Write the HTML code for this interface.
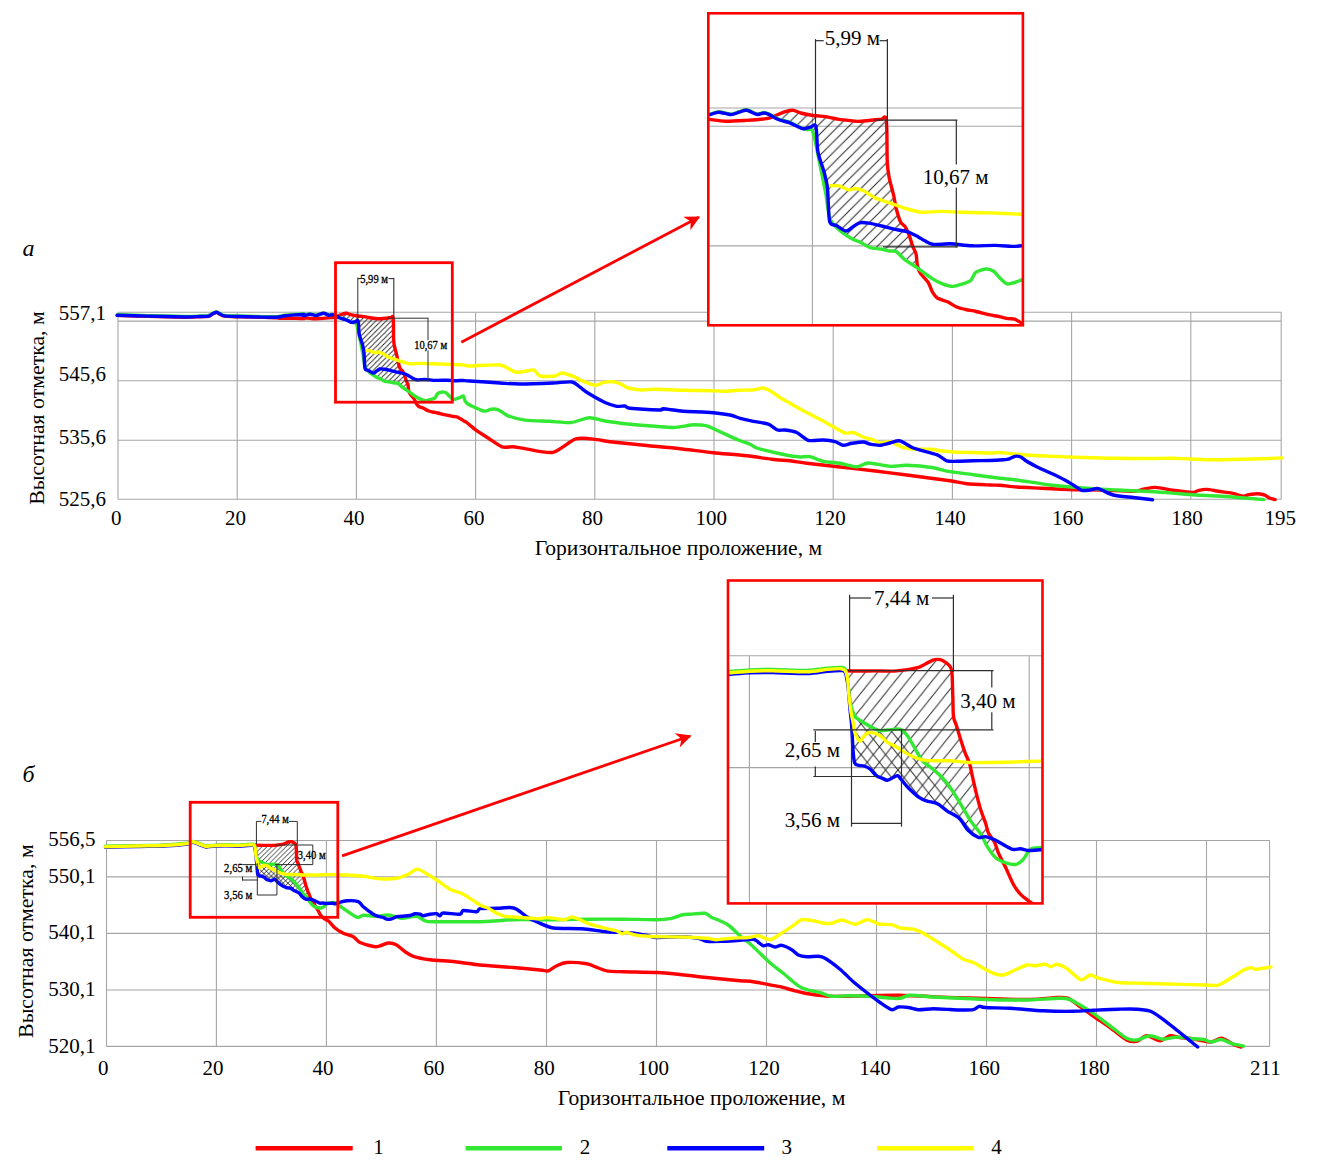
<!DOCTYPE html>
<html><head><meta charset="utf-8"><title>Profiles</title>
<style>
html,body{margin:0;padding:0;background:#fff;}
svg{display:block;}
text{font-family:"Liberation Serif","Times New Roman",serif;fill:#000;}
</style></head><body>
<svg width="1319" height="1169" viewBox="0 0 1319 1169">
<defs>
<pattern id="hA" patternUnits="userSpaceOnUse" width="5.2" height="5.2"><path d="M0,5.2 L5.2,0 M-1,1 L1,-1 M4.2,6.2 L6.2,4.2" stroke="#222" stroke-width="0.9"/></pattern>
<pattern id="hIA" patternUnits="userSpaceOnUse" width="10.6" height="10.6"><path d="M0,10.6 L10.6,0 M-1,1 L1,-1 M9.6,11.6 L11.6,9.6" stroke="#222" stroke-width="1"/></pattern>
<pattern id="hB1" patternUnits="userSpaceOnUse" width="4.8" height="4.8"><path d="M0,4.8 L4.8,0 M-1,1 L1,-1 M3.8,5.8 L5.8,3.8" stroke="#222" stroke-width="0.9"/></pattern>
<pattern id="hB2" patternUnits="userSpaceOnUse" width="4.8" height="4.8"><path d="M0,0 L4.8,4.8 M-1,3.8 L1,5.8 M3.8,-1 L5.8,1" stroke="#222" stroke-width="0.9"/></pattern>
<pattern id="hIB1" patternUnits="userSpaceOnUse" width="12.3" height="15.4"><path d="M0,15.4 L12.3,0 M-1.23,1.54 L1.23,-1.54 M11.07,16.94 L13.53,13.86" stroke="#222" stroke-width="1"/></pattern>
<pattern id="hIB2" patternUnits="userSpaceOnUse" width="12.3" height="15.4"><path d="M0,0 L12.3,15.4 M-1.23,13.86 L1.23,16.94 M11.07,-1.54 L13.53,1.54" stroke="#222" stroke-width="1"/></pattern>
<clipPath id="cIA"><rect x="708" y="13" width="315" height="312"/></clipPath>
<clipPath id="cIB"><rect x="728" y="580" width="315" height="323"/></clipPath>
<marker id="arr" viewBox="0 0 10 10" refX="9" refY="5" markerWidth="6.6" markerHeight="5.4" orient="auto" markerUnits="strokeWidth"><path d="M0,0 L10,5 L0,10 L3,5 z" fill="#ff0000"/></marker>
</defs>
<line x1="118.0" y1="312.2" x2="1281.2" y2="312.2" stroke="#a6a6a6" stroke-width="1.1"/>
<line x1="118.0" y1="321.1" x2="1281.2" y2="321.1" stroke="#a6a6a6" stroke-width="1.1"/>
<line x1="118.0" y1="380.7" x2="1281.2" y2="380.7" stroke="#a6a6a6" stroke-width="1.1"/>
<line x1="118.0" y1="440.2" x2="1281.2" y2="440.2" stroke="#a6a6a6" stroke-width="1.1"/>
<line x1="118.0" y1="499.3" x2="1281.2" y2="499.3" stroke="#a6a6a6" stroke-width="1.1"/>
<line x1="118.0" y1="312.2" x2="118.0" y2="499.3" stroke="#a6a6a6" stroke-width="1.1"/>
<line x1="237.2" y1="312.2" x2="237.2" y2="499.3" stroke="#a6a6a6" stroke-width="1.1"/>
<line x1="356.4" y1="312.2" x2="356.4" y2="499.3" stroke="#a6a6a6" stroke-width="1.1"/>
<line x1="475.6" y1="312.2" x2="475.6" y2="499.3" stroke="#a6a6a6" stroke-width="1.1"/>
<line x1="594.8" y1="312.2" x2="594.8" y2="499.3" stroke="#a6a6a6" stroke-width="1.1"/>
<line x1="714.0" y1="312.2" x2="714.0" y2="499.3" stroke="#a6a6a6" stroke-width="1.1"/>
<line x1="833.2" y1="312.2" x2="833.2" y2="499.3" stroke="#a6a6a6" stroke-width="1.1"/>
<line x1="952.4" y1="312.2" x2="952.4" y2="499.3" stroke="#a6a6a6" stroke-width="1.1"/>
<line x1="1071.6" y1="312.2" x2="1071.6" y2="499.3" stroke="#a6a6a6" stroke-width="1.1"/>
<line x1="1190.8" y1="312.2" x2="1190.8" y2="499.3" stroke="#a6a6a6" stroke-width="1.1"/>
<line x1="1281.2" y1="312.2" x2="1281.2" y2="499.3" stroke="#a6a6a6" stroke-width="1.1"/>
<text x="106.0" y="320.3" font-size="21" text-anchor="end">557,1</text>
<text x="106.0" y="381.0" font-size="21" text-anchor="end">545,6</text>
<text x="106.0" y="444.0" font-size="21" text-anchor="end">535,6</text>
<text x="106.0" y="506.1" font-size="21" text-anchor="end">525,6</text>
<text x="116.3" y="525.3" font-size="21" text-anchor="middle">0</text>
<text x="235.6" y="525.3" font-size="21" text-anchor="middle">20</text>
<text x="354.1" y="525.3" font-size="21" text-anchor="middle">40</text>
<text x="474.1" y="525.3" font-size="21" text-anchor="middle">60</text>
<text x="592.5" y="525.3" font-size="21" text-anchor="middle">80</text>
<text x="711.3" y="525.3" font-size="21" text-anchor="middle">100</text>
<text x="829.9" y="525.3" font-size="21" text-anchor="middle">120</text>
<text x="950.0" y="525.3" font-size="21" text-anchor="middle">140</text>
<text x="1067.7" y="525.3" font-size="21" text-anchor="middle">160</text>
<text x="1187.1" y="525.3" font-size="21" text-anchor="middle">180</text>
<text x="1280.3" y="525.3" font-size="21" text-anchor="middle">195</text>
<text x="678.4" y="554.7" font-size="21.6" text-anchor="middle">Горизонтальное проложение, м</text>
<text x="0.0" y="0.0" font-size="21.8" text-anchor="middle" transform="translate(44.2,408) rotate(-90)">Высотная отметка, м</text>
<text x="22.5" y="256.0" font-size="24" text-anchor="start" font-style="italic">а</text>
<polygon points="337.4,316.1 338.5,315.8 342.5,314.1 346.6,313.3 350.7,314.6 356.2,315.8 364.3,316.6 369.7,317.8 377.9,318.7 380.1,318.7 387.3,318.0 390.9,317.6 392.4,316.5 393.1,317.6 393.5,324.8 393.6,339.3 394.5,346.5 396.7,355.1 398.2,362.3 400.3,368.8 402.5,371.0 404.4,375.0 406.3,380.7 408.0,384.6 408.6,390.3 408.6,390.4 408.6,391.4 402.5,387.4 398.0,383.3 394.2,383.0 390.3,382.0 385.2,381.4 380.1,378.6 376.5,377.2 371.1,373.7 366.3,369.0 364.7,365.2 363.2,355.3 361.7,347.8 359.7,337.9 357.7,328.0 356.3,323.0 353.8,322.9 352.0,322.4 349.3,321.2 345.3,319.2 339.8,317.7 337.4,316.4" fill="url(#hA)" stroke="none"/>
<g fill="none" stroke-width="3.4" stroke-linejoin="round" stroke-linecap="round">
<path stroke="#ff0000" d="M117.2,315.4 C121.3,315.5 138.9,316.1 148.0,316.3 C157.1,316.5 178.9,317.1 185.8,317.2 C192.7,317.3 197.0,316.8 200.0,316.7 C203.0,316.6 206.8,316.7 208.5,316.3 C210.2,315.9 211.6,314.5 212.7,314.0 C213.8,313.5 215.6,312.4 216.5,312.4 C217.4,312.4 218.5,313.5 219.6,314.0 C220.7,314.5 222.1,315.7 224.4,316.1 C226.7,316.5 232.7,316.6 237.2,316.7 C241.7,316.8 253.2,317.0 258.4,317.2 C263.6,317.4 273.4,317.7 276.4,317.9 C279.4,318.1 278.1,318.3 280.6,318.4 C283.1,318.5 292.4,318.3 295.5,318.3 C298.6,318.3 303.0,318.7 304.0,318.6 C305.0,318.5 302.9,317.8 303.1,317.7 C303.3,317.6 304.1,317.7 305.5,317.8 C306.8,317.9 310.9,318.6 313.3,318.7 C315.7,318.7 320.7,318.4 323.5,318.3 C326.2,318.1 331.7,317.8 333.7,317.4 C335.7,317.1 337.3,316.2 338.5,315.8 C339.6,315.3 341.5,314.4 342.5,314.1 C343.6,313.7 345.5,313.2 346.6,313.3 C347.7,313.4 349.4,314.3 350.7,314.6 C352.0,314.9 354.3,315.5 356.2,315.8 C358.0,316.0 362.5,316.4 364.3,316.6 C366.1,316.9 367.9,317.5 369.7,317.8 C371.5,318.1 376.5,318.6 377.9,318.7 C379.3,318.8 378.8,318.8 380.1,318.7 C381.3,318.6 385.8,318.1 387.3,318.0 C388.7,317.8 390.2,317.8 390.9,317.6 C391.6,317.4 392.1,316.5 392.4,316.5 C392.7,316.5 393.0,316.5 393.1,317.6 C393.2,318.7 393.4,321.9 393.5,324.8 C393.5,327.7 393.5,336.4 393.6,339.3 C393.8,342.1 394.1,344.4 394.5,346.5 C395.0,348.6 396.2,353.0 396.7,355.1 C397.2,357.2 397.7,360.5 398.2,362.3 C398.6,364.2 399.7,367.6 400.3,368.8 C400.9,369.9 401.9,370.1 402.5,371.0 C403.0,371.8 403.9,373.7 404.4,375.0 C404.9,376.3 405.8,379.5 406.3,380.7 C406.8,382.0 407.6,383.3 408.0,384.6 C408.3,385.8 408.3,389.0 408.6,390.3 C408.9,391.6 409.5,393.1 410.2,394.2 C410.9,395.3 413.2,397.4 414.0,398.6 C414.8,399.8 415.4,402.1 416.0,403.1 C416.5,404.1 417.5,405.6 418.5,406.3 C419.5,407.0 422.3,407.6 423.6,408.2 C424.9,408.8 426.9,410.3 428.1,410.8 C429.3,411.3 431.3,411.7 432.6,412.0 C433.9,412.3 436.2,412.7 437.7,413.0 C439.2,413.3 442.6,414.3 444.1,414.6 C445.6,414.9 447.9,415.3 449.2,415.5 C450.5,415.8 452.7,416.4 453.7,416.5 C454.7,416.7 456.0,416.5 456.9,416.8 C457.8,417.1 459.5,418.2 460.4,418.8 C461.3,419.3 462.7,420.2 463.5,420.7 C464.4,421.2 465.0,421.2 466.7,422.5 C468.4,423.8 473.5,428.3 476.4,430.4 C479.3,432.5 485.1,436.1 488.5,438.3 C491.9,440.5 498.7,445.7 501.9,446.8 C505.1,447.9 509.7,446.6 512.8,446.8 C515.9,447.0 519.7,447.9 525.0,448.6 C530.3,449.3 546.1,453.6 552.9,452.3 C559.7,451.0 570.1,440.6 575.9,438.9 C581.7,437.2 592.2,439.2 596.7,439.6 C601.2,440.0 603.3,440.9 610.0,441.7 C616.7,442.5 637.4,444.6 646.7,445.5 C656.0,446.4 671.1,447.7 680.0,448.7 C688.9,449.7 704.4,451.8 713.3,452.7 C722.2,453.6 738.9,454.9 746.7,455.8 C754.5,456.7 765.9,458.5 771.7,459.2 C777.5,459.9 785.3,460.3 790.0,460.8 C794.7,461.3 800.0,462.5 806.7,463.3 C813.4,464.1 831.1,466.0 840.0,467.0 C848.9,468.0 864.4,469.7 873.3,470.8 C882.2,471.9 896.5,473.7 906.7,475.0 C916.9,476.3 942.0,479.6 950.0,480.8 C958.0,482.0 961.4,483.1 966.7,483.7 C972.0,484.3 985.6,484.8 990.0,485.0 C994.4,485.2 996.4,485.0 1000.0,485.3 C1003.6,485.6 1011.1,486.6 1016.7,487.0 C1022.3,487.4 1033.9,487.9 1041.7,488.3 C1049.5,488.7 1067.2,489.5 1075.0,489.7 C1082.8,489.9 1092.2,489.8 1100.0,490.0 C1107.8,490.2 1127.5,491.4 1133.3,491.3 C1139.1,491.2 1140.3,489.7 1143.3,489.2 C1146.3,488.7 1151.8,487.3 1155.7,487.4 C1159.6,487.5 1168.5,489.7 1172.7,490.3 C1176.9,490.9 1184.8,491.7 1187.5,492.0 C1190.2,492.3 1191.7,492.7 1193.2,492.5 C1194.7,492.3 1197.1,490.7 1198.9,490.3 C1200.7,489.9 1204.3,489.3 1206.9,489.4 C1209.5,489.5 1214.9,490.7 1218.2,491.2 C1221.5,491.7 1228.6,492.4 1231.9,493.1 C1235.2,493.8 1241.0,496.0 1243.3,496.2 C1245.6,496.4 1246.9,494.9 1248.9,494.6 C1250.9,494.3 1255.9,493.6 1258.0,493.7 C1260.1,493.8 1263.4,494.5 1264.9,495.1 C1266.4,495.7 1268.0,497.4 1269.4,498.0 C1270.8,498.6 1274.3,499.4 1275.1,499.6"/>
<path stroke="#33e833" d="M117.2,314.7 C121.3,314.8 138.9,315.4 148.0,315.6 C157.1,315.8 178.9,316.4 185.8,316.5 C192.7,316.6 197.0,316.1 200.0,316.0 C203.0,315.9 206.8,316.0 208.5,315.6 C210.2,315.2 211.6,313.8 212.7,313.3 C213.8,312.8 215.6,311.9 216.5,311.9 C217.4,311.9 218.5,312.8 219.6,313.3 C220.7,313.8 222.1,315.0 224.4,315.4 C226.7,315.8 232.7,315.9 237.2,316.0 C241.7,316.1 253.2,316.4 258.4,316.5 C263.6,316.6 272.9,316.9 276.4,316.7 C279.9,316.5 282.4,315.5 284.9,315.2 C287.4,314.9 293.0,314.6 295.5,314.4 C298.0,314.2 303.0,313.9 304.0,314.0 C305.0,314.1 302.9,315.1 303.1,315.3 C303.3,315.4 304.6,315.3 305.5,315.2 C306.4,315.0 308.5,314.0 309.9,314.0 C311.3,314.0 314.7,315.2 316.0,315.2 C317.4,315.2 319.1,314.3 320.1,314.0 C321.1,313.7 322.6,312.9 323.8,313.0 C325.0,313.2 327.8,314.9 328.9,315.1 C330.1,315.2 331.5,314.4 332.4,314.4 C333.2,314.4 334.0,314.7 335.0,315.2 C336.0,315.6 338.4,317.2 339.8,317.7 C341.2,318.3 344.0,318.8 345.3,319.2 C346.5,319.7 348.4,320.7 349.3,321.2 C350.2,321.6 351.4,322.2 352.0,322.4 C352.6,322.6 353.2,322.8 353.8,322.9 C354.3,323.0 355.7,322.4 356.3,323.0 C356.8,323.7 357.3,326.0 357.7,328.0 C358.2,330.0 359.2,335.3 359.7,337.9 C360.3,340.6 361.3,345.5 361.7,347.8 C362.2,350.1 362.8,352.9 363.2,355.3 C363.6,357.6 364.3,363.3 364.7,365.2 C365.1,367.0 365.5,367.9 366.3,369.0 C367.2,370.2 369.7,372.7 371.1,373.7 C372.5,374.8 375.3,376.5 376.5,377.2 C377.7,377.8 378.9,378.0 380.1,378.6 C381.2,379.1 383.8,380.9 385.2,381.4 C386.6,381.8 389.1,381.8 390.3,382.0 C391.5,382.2 393.2,382.8 394.2,383.0 C395.2,383.1 396.9,382.7 398.0,383.3 C399.1,383.9 401.0,386.3 402.5,387.4 C403.9,388.5 407.1,390.4 408.9,391.6 C410.7,392.8 414.3,395.7 416.0,396.7 C417.6,397.7 419.7,398.8 421.1,399.3 C422.4,399.8 424.8,400.6 426.2,400.6 C427.5,400.6 430.1,399.7 431.3,399.3 C432.5,398.9 434.3,398.5 435.1,397.7 C436.0,396.9 436.7,394.3 437.7,393.5 C438.7,392.8 441.6,392.0 442.8,391.9 C444.0,391.9 445.8,392.6 446.6,393.2 C447.5,393.7 448.4,395.2 449.2,396.1 C450.1,396.9 452.0,398.9 453.1,399.3 C454.1,399.6 455.9,398.9 456.9,398.6 C457.9,398.4 459.5,397.7 460.4,397.3 C461.3,397.0 462.7,395.4 463.5,396.2 C464.4,396.9 464.0,401.1 466.7,403.1 C469.4,405.1 480.5,410.2 483.7,411.0 C486.9,411.8 489.1,409.4 491.0,409.2 C492.9,409.0 496.0,408.9 498.3,409.8 C500.6,410.7 504.4,414.4 508.0,415.8 C511.6,417.2 519.5,419.4 525.0,420.1 C530.5,420.8 543.1,421.0 549.2,421.3 C555.3,421.6 565.8,423.0 571.1,422.5 C576.4,422.0 584.8,417.9 589.3,417.7 C593.8,417.5 599.6,420.1 605.0,421.0 C610.4,421.9 623.3,423.5 630.0,424.2 C636.7,424.9 649.2,425.9 655.0,426.3 C660.8,426.7 669.1,427.6 673.3,427.5 C677.5,427.4 684.0,426.2 686.7,425.8 C689.4,425.4 690.6,424.7 693.3,424.7 C696.0,424.7 702.9,424.8 706.7,425.8 C710.5,426.8 717.5,430.6 721.7,432.5 C725.9,434.4 734.5,438.4 738.3,440.0 C742.1,441.6 747.5,443.1 750.0,444.2 C752.5,445.3 753.1,446.8 756.7,448.0 C760.3,449.2 772.3,452.0 776.7,453.0 C781.1,454.0 786.9,455.3 790.0,455.8 C793.1,456.3 797.3,456.9 800.0,457.0 C802.7,457.1 806.9,456.1 810.0,456.7 C813.1,457.3 819.3,460.4 823.3,461.3 C827.3,462.2 835.5,462.6 840.0,463.3 C844.5,464.0 852.9,466.7 856.7,466.7 C860.5,466.7 863.9,463.1 868.3,463.0 C872.7,462.9 884.9,466.0 890.0,466.3 C895.1,466.6 901.1,465.1 906.7,465.3 C912.3,465.5 925.9,466.6 931.7,467.5 C937.5,468.4 944.5,470.7 950.0,471.7 C955.5,472.7 966.6,473.8 973.3,474.7 C980.0,475.6 994.2,477.6 1000.0,478.3 C1005.8,479.0 1010.0,479.1 1016.7,480.0 C1023.4,480.9 1041.1,483.9 1050.0,485.0 C1058.9,486.1 1074.4,487.3 1083.3,488.0 C1092.2,488.7 1107.8,489.5 1116.7,490.0 C1125.6,490.5 1142.5,491.1 1150.0,491.5 C1157.5,491.9 1166.6,492.6 1172.7,493.1 C1178.8,493.6 1189.4,494.6 1195.5,495.0 C1201.6,495.4 1212.1,495.6 1218.2,496.0 C1224.3,496.4 1234.9,497.2 1241.0,497.7 C1247.1,498.2 1260.7,499.3 1263.7,499.6"/>
<path stroke="#ffff00" d="M364.6,350.7 C365.3,350.7 368.4,350.4 369.7,350.7 C371.0,351.0 373.4,352.6 374.5,352.7 C375.6,352.9 376.8,351.9 377.9,352.0 C379.0,352.1 381.3,352.9 382.6,353.5 C383.8,354.1 385.7,355.8 387.3,356.5 C388.9,357.3 392.6,358.4 394.5,359.1 C396.5,359.8 399.6,361.0 401.7,361.6 C403.9,362.2 408.0,363.5 410.4,363.8 C412.8,364.0 417.1,363.4 419.8,363.4 C422.5,363.4 427.3,363.7 430.7,363.8 C434.0,363.9 441.2,364.0 445.1,364.1 C449.1,364.3 457.8,364.7 460.3,364.8 C462.7,364.9 462.2,364.8 463.5,364.9 C464.8,365.1 465.1,366.0 470.0,366.0 C474.9,366.0 494.0,364.2 500.0,365.0 C506.0,365.8 511.4,371.2 515.0,372.0 C518.6,372.8 524.5,371.3 527.0,371.0 C529.5,370.7 532.3,369.3 534.0,370.0 C535.7,370.7 537.2,375.2 540.0,376.0 C542.8,376.8 552.1,376.4 555.0,376.0 C557.9,375.6 559.3,372.9 562.0,373.0 C564.7,373.1 572.6,376.1 575.0,377.0 C577.4,377.9 577.3,378.9 580.0,380.0 C582.7,381.1 591.9,385.0 595.0,385.3 C598.1,385.6 600.9,383.0 603.3,382.5 C605.7,382.0 611.1,381.5 613.3,381.7 C615.5,381.9 618.0,382.9 620.0,383.7 C622.0,384.5 625.4,387.2 628.3,388.0 C631.2,388.8 638.1,389.8 641.7,390.0 C645.3,390.2 649.5,389.2 655.0,389.2 C660.5,389.2 675.5,390.1 683.3,390.3 C691.1,390.5 707.5,390.7 713.3,390.8 C719.1,390.9 723.4,391.4 726.7,391.3 C730.0,391.2 734.5,390.5 738.3,390.3 C742.1,390.1 751.8,390.0 755.0,389.7 C758.2,389.4 760.5,387.9 762.5,388.0 C764.5,388.1 767.7,389.5 770.0,390.8 C772.3,392.1 777.3,395.8 780.0,397.5 C782.7,399.2 786.4,401.3 790.0,403.3 C793.6,405.3 802.7,410.4 806.7,412.5 C810.7,414.6 816.5,417.3 820.0,419.2 C823.5,421.1 830.0,424.9 833.3,426.7 C836.6,428.5 842.3,432.2 845.0,433.0 C847.7,433.8 850.9,432.0 853.3,432.5 C855.7,433.0 860.6,436.0 863.3,437.0 C866.0,438.0 871.1,439.2 873.3,440.0 C875.5,440.8 877.8,442.8 880.0,443.0 C882.2,443.2 886.9,441.1 890.0,441.7 C893.1,442.3 899.7,446.5 903.3,447.5 C906.9,448.5 912.9,449.0 916.7,449.2 C920.5,449.4 928.6,449.0 931.7,449.2 C934.8,449.4 936.7,450.4 940.0,450.8 C943.3,451.2 952.3,452.0 956.7,452.2 C961.1,452.4 968.9,452.4 973.3,452.5 C977.7,452.6 986.4,453.0 990.0,453.0 C993.6,453.0 996.4,452.3 1000.0,452.5 C1003.6,452.7 1010.0,453.7 1016.7,454.2 C1023.4,454.7 1041.1,455.8 1050.0,456.2 C1058.9,456.6 1074.4,457.2 1083.3,457.5 C1092.2,457.8 1107.8,458.2 1116.7,458.3 C1125.6,458.4 1142.5,458.5 1150.0,458.5 C1157.5,458.5 1167.3,458.1 1172.7,458.2 C1178.1,458.3 1185.1,458.8 1190.4,459.0 C1195.7,459.2 1205.8,459.8 1212.5,459.8 C1219.2,459.8 1234.2,459.4 1241.0,459.3 C1247.8,459.2 1258.2,458.9 1263.7,458.7 C1269.2,458.5 1279.5,458.0 1281.9,457.9"/>
<path stroke="#0000ff" d="M117.2,315.2 C121.3,315.3 138.9,315.9 148.0,316.1 C157.1,316.3 178.9,316.9 185.8,317.0 C192.7,317.1 197.0,316.6 200.0,316.5 C203.0,316.4 206.8,316.5 208.5,316.1 C210.2,315.7 211.6,314.3 212.7,313.8 C213.8,313.3 215.6,312.2 216.5,312.2 C217.4,312.2 218.5,313.3 219.6,313.8 C220.7,314.3 222.1,315.5 224.4,315.9 C226.7,316.3 232.7,316.4 237.2,316.5 C241.7,316.6 253.2,316.9 258.4,317.0 C263.6,317.1 272.9,317.4 276.4,317.2 C279.9,317.0 282.4,316.0 284.9,315.7 C287.4,315.4 293.0,315.1 295.5,314.9 C298.0,314.7 303.0,314.4 304.0,314.5 C305.0,314.6 302.9,315.4 303.1,315.5 C303.3,315.6 304.6,315.6 305.5,315.4 C306.4,315.2 308.5,314.2 309.9,314.2 C311.3,314.2 314.7,315.4 316.0,315.4 C317.4,315.4 319.1,314.5 320.1,314.2 C321.1,313.9 322.6,313.1 323.8,313.3 C325.0,313.4 327.8,315.1 328.9,315.3 C330.1,315.5 331.5,314.6 332.4,314.6 C333.2,314.6 334.0,315.0 335.0,315.4 C336.0,315.9 338.4,317.4 339.8,318.0 C341.2,318.5 344.0,319.0 345.3,319.5 C346.5,319.9 348.4,321.0 349.3,321.4 C350.2,321.8 351.2,322.4 352.0,322.4 C352.9,322.4 354.6,321.8 355.5,321.7 C356.3,321.5 357.7,319.6 358.2,321.2 C358.7,322.8 358.6,330.7 359.2,333.7 C359.7,336.8 361.6,341.5 362.3,343.9 C362.9,346.3 363.6,348.8 363.9,352.0 C364.3,355.3 364.4,365.9 365.0,368.3 C365.6,370.8 367.3,369.7 368.4,370.4 C369.5,371.0 372.1,373.0 373.1,373.1 C374.2,373.2 375.6,371.6 376.5,371.1 C377.4,370.5 378.9,369.3 379.9,369.0 C381.0,368.8 382.9,369.0 384.4,369.2 C385.9,369.4 389.1,370.2 390.9,370.6 C392.8,371.1 396.4,372.0 398.2,372.4 C399.9,372.8 402.5,373.0 403.9,373.5 C405.4,374.0 407.9,375.4 409.0,376.0 C410.1,376.6 411.1,377.4 412.1,377.9 C413.1,378.4 414.9,379.6 416.6,379.8 C418.3,380.0 422.3,379.4 424.9,379.4 C427.4,379.5 432.8,380.3 435.8,380.4 C438.8,380.5 444.6,380.2 447.3,380.2 C449.9,380.3 453.9,380.7 455.6,380.7 C457.4,380.8 459.3,380.5 460.4,380.4 C461.5,380.4 462.3,380.5 463.5,380.5 C464.8,380.6 465.1,380.7 470.0,381.0 C474.9,381.3 493.3,382.6 500.0,383.0 C506.7,383.4 512.9,384.0 520.0,384.0 C527.1,384.0 546.1,383.3 553.0,383.0 C559.9,382.7 568.4,381.4 572.0,382.0 C575.6,382.6 577.8,385.7 580.0,387.2 C582.2,388.7 585.0,391.3 588.3,393.3 C591.6,395.3 601.2,400.8 605.0,402.5 C608.8,404.2 614.0,405.8 616.7,406.3 C619.4,406.8 623.2,405.7 625.0,406.0 C626.8,406.3 625.3,407.8 630.0,408.3 C634.7,408.8 655.6,409.9 660.0,410.0 C664.4,410.1 660.2,408.5 663.3,408.7 C666.4,408.9 677.5,410.8 683.3,411.3 C689.1,411.8 700.5,411.7 706.7,412.2 C712.9,412.7 725.6,414.2 730.0,415.0 C734.4,415.8 736.9,417.5 740.0,418.3 C743.1,419.1 749.5,420.5 753.3,421.3 C757.1,422.1 765.1,423.0 768.3,424.2 C771.5,425.4 775.3,429.2 777.5,430.0 C779.7,430.8 782.4,429.7 785.0,430.0 C787.6,430.3 793.6,431.1 796.7,432.5 C799.8,433.9 804.8,439.3 808.3,440.3 C811.8,441.3 819.7,439.8 823.3,440.0 C826.9,440.2 832.3,441.0 835.0,441.7 C837.7,442.4 841.1,445.1 843.3,445.3 C845.5,445.5 849.0,443.7 851.7,443.3 C854.4,442.9 860.9,441.9 863.3,442.0 C865.7,442.1 867.8,443.8 870.0,444.2 C872.2,444.6 877.3,445.5 880.0,445.3 C882.7,445.1 887.3,443.6 890.0,443.0 C892.7,442.4 896.9,440.1 900.0,440.8 C903.1,441.5 908.4,446.1 913.3,448.0 C918.2,449.9 932.2,453.0 936.7,454.7 C941.2,456.4 944.0,459.9 946.7,460.8 C949.4,461.7 953.2,461.3 956.7,461.3 C960.2,461.3 968.9,460.9 973.3,460.8 C977.7,460.7 986.0,460.6 990.0,460.5 C994.0,460.4 1000.9,459.9 1003.3,459.7 C1005.7,459.5 1006.7,459.7 1008.3,459.2 C1009.9,458.7 1013.3,456.6 1015.0,456.3 C1016.7,456.0 1019.2,456.3 1020.8,457.0 C1022.4,457.7 1024.6,460.0 1026.7,461.3 C1028.8,462.6 1032.3,464.5 1036.7,466.7 C1041.1,468.9 1055.1,475.1 1060.0,477.5 C1064.9,479.9 1070.4,483.3 1073.3,485.0 C1076.2,486.7 1079.5,489.6 1081.7,490.3 C1083.9,491.0 1087.8,490.2 1090.0,490.0 C1092.2,489.8 1095.2,488.0 1098.3,488.7 C1101.4,489.4 1108.6,493.8 1113.3,495.0 C1118.0,496.2 1128.1,496.9 1133.3,497.5 C1138.5,498.1 1149.9,499.4 1152.5,499.7"/>
</g>
<line x1="357.8" y1="277.5" x2="357.8" y2="319.0" stroke="#2e2e2e" stroke-width="1"/>
<line x1="393.8" y1="277.8" x2="393.8" y2="317.0" stroke="#2e2e2e" stroke-width="1.1"/>
<line x1="357.8" y1="278.6" x2="361.0" y2="278.6" stroke="#2e2e2e" stroke-width="1.1"/>
<line x1="388.5" y1="278.6" x2="393.8" y2="278.6" stroke="#2e2e2e" stroke-width="1.1"/>
<text x="360.2" y="282.8" font-size="11.5" textLength="27.8" lengthAdjust="spacingAndGlyphs" stroke="#000" stroke-width="0.3">5,99 м</text>
<line x1="387.5" y1="318.2" x2="428.5" y2="318.2" stroke="#2e2e2e" stroke-width="1"/>
<line x1="428.0" y1="318.2" x2="428.0" y2="340.1" stroke="#2e2e2e" stroke-width="1"/>
<line x1="428.0" y1="350.4" x2="428.0" y2="381.5" stroke="#2e2e2e" stroke-width="1"/>
<line x1="405.0" y1="380.8" x2="428.5" y2="380.8" stroke="#2e2e2e" stroke-width="1"/>
<text x="414.2" y="349.1" font-size="11.5" textLength="33.0" lengthAdjust="spacingAndGlyphs" stroke="#000" stroke-width="0.3">10,67 м</text>
<rect x="335.5" y="262.7" width="116.8" height="139.5" fill="none" stroke="#ff0000" stroke-width="2.8"/>
<line x1="461.3" y1="342.3" x2="698.8" y2="217.2" stroke="#ff0000" stroke-width="2.8" marker-end="url(#arr)"/>
<rect x="708" y="13" width="315" height="312.3" fill="#fff" stroke="none"/>
<g clip-path="url(#cIA)">
<line x1="708.0" y1="108.0" x2="1023.0" y2="108.0" stroke="#a6a6a6" stroke-width="1.1"/>
<line x1="708.0" y1="126.2" x2="1023.0" y2="126.2" stroke="#a6a6a6" stroke-width="1.1"/>
<line x1="708.0" y1="245.9" x2="1023.0" y2="245.9" stroke="#a6a6a6" stroke-width="1.1"/>
<line x1="812.4" y1="108.0" x2="812.4" y2="325.3" stroke="#a6a6a6" stroke-width="1.1"/>
</g>
<polygon points="774.0,116.1 776.2,115.3 784.4,111.9 792.6,110.3 800.8,113.0 811.8,115.3 828.2,117.1 839.1,119.4 855.6,121.2 860.0,121.3 874.5,119.8 881.8,119.1 884.7,116.9 886.2,119.1 886.9,133.6 887.3,162.7 889.1,177.3 893.5,194.7 896.4,209.3 900.7,222.3 905.1,226.7 909.0,234.8 912.8,246.4 916.1,254.1 917.4,265.7 917.5,265.9 917.5,268.0 905.1,259.9 896.1,251.6 888.4,250.9 880.6,249.0 870.3,247.7 860.0,242.0 852.8,239.2 841.9,232.3 832.3,222.8 829.0,215.0 826.0,195.0 823.0,180.0 819.0,160.0 815.0,140.0 812.0,130.0 807.0,129.7 803.5,128.7 798.0,126.2 789.9,122.3 778.9,119.3 774.0,116.6" fill="url(#hIA)" stroke="none" clip-path="url(#cIA)"/>
<g fill="none" stroke-width="3.4" stroke-linejoin="round" stroke-linecap="round" clip-path="url(#cIA)">
<path stroke="#ff0000" d="M705.0,119.2 C705.6,119.2 707.1,119.1 709.8,119.4 C712.5,119.7 720.7,121.1 725.5,121.2 C730.3,121.3 740.5,120.7 746.0,120.4 C751.5,120.1 762.6,119.4 766.6,118.7 C770.6,118.0 773.8,116.2 776.2,115.3 C778.6,114.4 782.2,112.6 784.4,111.9 C786.6,111.2 790.4,110.2 792.6,110.3 C794.8,110.4 798.2,112.3 800.8,113.0 C803.4,113.7 808.1,114.8 811.8,115.3 C815.5,115.8 824.6,116.6 828.2,117.1 C831.8,117.6 835.4,118.9 839.1,119.4 C842.8,119.9 852.8,120.9 855.6,121.2 C858.4,121.5 857.5,121.5 860.0,121.3 C862.5,121.1 871.6,120.1 874.5,119.8 C877.4,119.5 880.4,119.5 881.8,119.1 C883.2,118.7 884.1,116.9 884.7,116.9 C885.3,116.9 885.9,116.9 886.2,119.1 C886.5,121.3 886.8,127.8 886.9,133.6 C887.0,139.4 887.0,156.9 887.3,162.7 C887.6,168.5 888.3,173.0 889.1,177.3 C889.9,181.6 892.5,190.4 893.5,194.7 C894.5,199.0 895.4,205.6 896.4,209.3 C897.4,213.0 899.5,220.0 900.7,222.3 C901.9,224.6 904.0,225.0 905.1,226.7 C906.2,228.4 908.0,232.2 909.0,234.8 C910.0,237.4 911.9,243.8 912.8,246.4 C913.7,249.0 915.5,251.5 916.1,254.1 C916.7,256.7 916.8,263.1 917.4,265.7 C918.0,268.3 919.1,271.3 920.6,273.5 C922.1,275.7 926.8,280.1 928.3,282.5 C929.8,284.9 931.0,289.4 932.2,291.5 C933.4,293.6 935.2,296.6 937.3,298.0 C939.4,299.4 945.0,300.6 947.6,301.8 C950.2,303.0 954.3,306.0 956.7,307.0 C959.1,308.0 963.1,308.9 965.7,309.5 C968.3,310.1 972.9,310.8 976.0,311.5 C979.1,312.2 985.8,314.0 988.9,314.7 C992.0,315.4 996.6,316.1 999.2,316.6 C1001.8,317.1 1006.1,318.3 1008.2,318.6 C1010.3,318.9 1012.9,318.6 1014.7,319.2 C1016.5,319.8 1019.9,322.1 1021.7,323.1 C1023.5,324.1 1027.2,326.5 1028.0,327.0"/>
<path stroke="#33e833" d="M705.0,114.3 C705.6,114.3 708.0,114.4 709.8,114.1 C711.6,113.8 715.9,111.7 718.7,111.7 C721.5,111.7 728.3,114.1 731.0,114.1 C733.7,114.1 737.1,112.3 739.2,111.7 C741.3,111.1 744.3,109.5 746.7,109.8 C749.1,110.1 754.7,113.5 757.0,113.9 C759.3,114.3 762.3,112.5 763.9,112.5 C765.5,112.5 767.3,113.2 769.3,114.1 C771.3,115.0 776.2,118.2 778.9,119.3 C781.6,120.4 787.4,121.4 789.9,122.3 C792.4,123.2 796.2,125.3 798.0,126.2 C799.8,127.1 802.3,128.2 803.5,128.7 C804.7,129.2 805.9,129.5 807.0,129.7 C808.1,129.9 810.9,128.6 812.0,130.0 C813.1,131.4 814.1,136.0 815.0,140.0 C815.9,144.0 817.9,154.7 819.0,160.0 C820.1,165.3 822.1,175.3 823.0,180.0 C823.9,184.7 825.2,190.3 826.0,195.0 C826.8,199.7 828.2,211.3 829.0,215.0 C829.8,218.7 830.6,220.5 832.3,222.8 C834.0,225.1 839.2,230.1 841.9,232.3 C844.6,234.5 850.4,237.9 852.8,239.2 C855.2,240.5 857.7,240.9 860.0,242.0 C862.3,243.1 867.6,246.8 870.3,247.7 C873.0,248.6 878.2,248.6 880.6,249.0 C883.0,249.4 886.3,250.6 888.4,250.9 C890.5,251.2 893.9,250.4 896.1,251.6 C898.3,252.8 902.2,257.7 905.1,259.9 C908.0,262.1 914.4,265.8 918.0,268.3 C921.6,270.8 928.9,276.5 932.2,278.6 C935.5,280.7 939.8,282.8 942.5,283.8 C945.2,284.8 950.1,286.4 952.8,286.4 C955.5,286.4 960.7,284.6 963.1,283.8 C965.5,283.0 969.1,282.1 970.8,280.6 C972.5,279.1 973.9,273.7 976.0,272.2 C978.1,270.7 983.9,269.1 986.3,269.0 C988.7,268.9 992.3,270.4 994.0,271.5 C995.7,272.6 997.5,275.7 999.2,277.3 C1000.9,278.9 1004.8,283.1 1006.9,283.8 C1009.0,284.5 1012.7,283.0 1014.7,282.5 C1016.7,282.0 1019.9,280.6 1021.7,279.9 C1023.5,279.2 1027.2,277.8 1028.0,277.5"/>
<path stroke="#ffff00" d="M828.9,185.8 C830.3,185.8 836.5,185.3 839.1,185.8 C841.7,186.3 846.5,189.5 848.7,189.9 C850.9,190.3 853.4,188.3 855.6,188.5 C857.8,188.7 862.5,190.3 865.0,191.5 C867.5,192.7 871.3,196.1 874.5,197.6 C877.7,199.1 885.2,201.3 889.1,202.7 C893.0,204.1 899.3,206.5 903.6,207.8 C907.9,209.1 916.2,211.7 921.1,212.2 C926.0,212.7 934.6,211.4 940.0,211.4 C945.4,211.4 955.0,212.0 961.8,212.2 C968.6,212.4 983.0,212.6 990.9,212.9 C998.8,213.2 1016.5,214.1 1021.4,214.3 C1026.3,214.5 1027.1,214.5 1028.0,214.5"/>
<path stroke="#0000ff" d="M705.0,114.8 C705.6,114.8 708.0,114.9 709.8,114.6 C711.6,114.3 715.9,112.2 718.7,112.2 C721.5,112.2 728.3,114.6 731.0,114.6 C733.7,114.6 737.1,112.8 739.2,112.2 C741.3,111.6 744.3,110.0 746.7,110.3 C749.1,110.6 754.7,114.0 757.0,114.4 C759.3,114.8 762.3,113.0 763.9,113.0 C765.5,113.0 767.3,113.7 769.3,114.6 C771.3,115.5 776.2,118.7 778.9,119.8 C781.6,120.9 787.4,121.9 789.9,122.8 C792.4,123.7 796.2,125.9 798.0,126.7 C799.8,127.5 801.8,128.6 803.5,128.7 C805.2,128.8 808.7,127.5 810.4,127.2 C812.1,126.9 814.9,123.0 815.9,126.3 C816.9,129.6 816.8,145.5 817.9,151.6 C819.0,157.7 822.8,167.2 824.1,172.1 C825.4,177.0 826.8,181.9 827.5,188.5 C828.2,195.1 828.4,216.5 829.6,221.4 C830.8,226.3 834.2,224.2 836.4,225.5 C838.6,226.8 843.8,230.8 846.0,231.0 C848.2,231.2 851.0,228.0 852.8,226.9 C854.6,225.8 857.6,223.3 859.7,222.8 C861.8,222.3 865.8,222.7 868.7,223.1 C871.6,223.5 878.1,225.1 881.8,226.0 C885.5,226.9 892.9,228.8 896.4,229.6 C899.9,230.4 905.1,230.8 908.0,231.8 C910.9,232.8 916.0,235.7 918.2,236.9 C920.4,238.1 922.4,239.6 924.4,240.6 C926.4,241.6 930.1,244.1 933.5,244.5 C936.9,244.9 945.1,243.6 950.2,243.8 C955.3,244.0 966.1,245.6 972.1,245.8 C978.1,246.0 990.0,245.3 995.3,245.4 C1000.6,245.5 1008.6,246.3 1012.1,246.4 C1015.6,246.5 1019.6,245.9 1021.7,245.8 C1023.8,245.7 1027.2,246.0 1028.0,246.0"/>
</g>
<line x1="815.5" y1="39.1" x2="815.5" y2="126.3" stroke="#2e2e2e" stroke-width="1.2"/>
<line x1="887.4" y1="39.1" x2="887.4" y2="132.2" stroke="#2e2e2e" stroke-width="1.2"/>
<line x1="815.5" y1="40.7" x2="823.7" y2="40.7" stroke="#2e2e2e" stroke-width="1.2"/>
<line x1="879.6" y1="40.7" x2="887.8" y2="40.7" stroke="#2e2e2e" stroke-width="1.2"/>
<text x="852.3" y="45.2" font-size="21" text-anchor="middle">5,99 м</text>
<line x1="874.5" y1="120.1" x2="957.4" y2="120.1" stroke="#2e2e2e" stroke-width="1.2"/>
<line x1="956.3" y1="120.1" x2="956.3" y2="164.5" stroke="#2e2e2e" stroke-width="1.2"/>
<line x1="956.3" y1="187.4" x2="956.3" y2="247.6" stroke="#2e2e2e" stroke-width="1.2"/>
<line x1="883.0" y1="246.9" x2="957.8" y2="246.9" stroke="#2e2e2e" stroke-width="1.2"/>
<text x="955.7" y="183.8" font-size="21" text-anchor="middle">10,67 м</text>
<rect x="708.3" y="13.3" width="314.6" height="312" fill="none" stroke="#ff0000" stroke-width="2.6"/>
<line x1="106.5" y1="840.5" x2="1269.6" y2="840.5" stroke="#a6a6a6" stroke-width="1.1"/>
<line x1="106.5" y1="876.9" x2="1269.6" y2="876.9" stroke="#a6a6a6" stroke-width="1.1"/>
<line x1="106.5" y1="933.4" x2="1269.6" y2="933.4" stroke="#a6a6a6" stroke-width="1.1"/>
<line x1="106.5" y1="990.0" x2="1269.6" y2="990.0" stroke="#a6a6a6" stroke-width="1.1"/>
<line x1="106.5" y1="1046.4" x2="1269.6" y2="1046.4" stroke="#a6a6a6" stroke-width="1.1"/>
<line x1="106.5" y1="840.5" x2="106.5" y2="1046.4" stroke="#a6a6a6" stroke-width="1.1"/>
<line x1="216.4" y1="840.5" x2="216.4" y2="1046.4" stroke="#a6a6a6" stroke-width="1.1"/>
<line x1="326.4" y1="840.5" x2="326.4" y2="1046.4" stroke="#a6a6a6" stroke-width="1.1"/>
<line x1="436.4" y1="840.5" x2="436.4" y2="1046.4" stroke="#a6a6a6" stroke-width="1.1"/>
<line x1="546.5" y1="840.5" x2="546.5" y2="1046.4" stroke="#a6a6a6" stroke-width="1.1"/>
<line x1="656.5" y1="840.5" x2="656.5" y2="1046.4" stroke="#a6a6a6" stroke-width="1.1"/>
<line x1="766.5" y1="840.5" x2="766.5" y2="1046.4" stroke="#a6a6a6" stroke-width="1.1"/>
<line x1="876.5" y1="840.5" x2="876.5" y2="1046.4" stroke="#a6a6a6" stroke-width="1.1"/>
<line x1="986.5" y1="840.5" x2="986.5" y2="1046.4" stroke="#a6a6a6" stroke-width="1.1"/>
<line x1="1096.5" y1="840.5" x2="1096.5" y2="1046.4" stroke="#a6a6a6" stroke-width="1.1"/>
<line x1="1206.5" y1="840.5" x2="1206.5" y2="1046.4" stroke="#a6a6a6" stroke-width="1.1"/>
<line x1="1269.6" y1="840.5" x2="1269.6" y2="1046.4" stroke="#a6a6a6" stroke-width="1.1"/>
<text x="95.5" y="846.1" font-size="21" text-anchor="end">556,5</text>
<text x="95.5" y="883.3" font-size="21" text-anchor="end">550,1</text>
<text x="95.5" y="939.0" font-size="21" text-anchor="end">540,1</text>
<text x="95.5" y="995.7" font-size="21" text-anchor="end">530,1</text>
<text x="95.5" y="1053.1" font-size="21" text-anchor="end">520,1</text>
<text x="103.2" y="1074.8" font-size="21" text-anchor="middle">0</text>
<text x="212.9" y="1074.8" font-size="21" text-anchor="middle">20</text>
<text x="322.9" y="1074.8" font-size="21" text-anchor="middle">40</text>
<text x="433.9" y="1074.8" font-size="21" text-anchor="middle">60</text>
<text x="544.3" y="1074.8" font-size="21" text-anchor="middle">80</text>
<text x="653.3" y="1074.8" font-size="21" text-anchor="middle">100</text>
<text x="763.9" y="1074.8" font-size="21" text-anchor="middle">120</text>
<text x="874.9" y="1074.8" font-size="21" text-anchor="middle">140</text>
<text x="984.3" y="1074.8" font-size="21" text-anchor="middle">160</text>
<text x="1094.0" y="1074.8" font-size="21" text-anchor="middle">180</text>
<text x="1265.4" y="1074.8" font-size="21" text-anchor="middle">211</text>
<text x="701.6" y="1104.7" font-size="21.6" text-anchor="middle">Горизонтальное проложение, м</text>
<text x="0.0" y="0.0" font-size="21.8" text-anchor="middle" transform="translate(33.2,941.1) rotate(-90)">Высотная отметка, м</text>
<text x="22.5" y="782.0" font-size="24" text-anchor="start" font-style="italic">б</text>
<polygon points="254.3,845.3 265.9,845.4 274.5,845.4 283.0,844.2 286.5,842.8 289.3,841.7 291.6,841.7 293.9,842.8 295.6,844.2 296.2,846.5 296.5,853.6 296.7,860.2 297.9,863.0 299.6,867.7 301.3,872.0 303.0,875.3 304.2,879.5 305.9,885.6 307.6,890.8 309.3,894.6 310.5,897.9 312.8,900.7 314.5,904.4 315.8,906.7 315.8,906.9 313.3,905.9 309.9,902.1 308.1,899.0 308.1,899.1 306.5,899.3 302.5,896.9 299.1,893.1 294.5,890.8 290.6,888.4 286.1,887.5 282.9,886.1 278.9,883.1 276.5,880.8 274.8,879.3 273.2,879.8 270.8,880.8 268.4,880.0 266.4,879.3 263.9,877.1 261.5,876.1 259.5,876.0 257.9,875.1 257.3,870.8 256.7,862.8 256.2,858.4 255.4,850.9 254.3,845.9" fill="url(#hB1)" stroke="none"/>
<polygon points="256.7,857.4 257.5,859.3 258.4,860.4 260.3,861.5 264.4,863.5 267.6,864.7 270.8,864.5 274.4,864.2 276.5,864.5 278.5,866.2 280.5,868.8 282.5,871.8 284.5,874.5 288.5,877.1 291.8,879.5 295.6,883.3 300.2,889.4 303.6,894.1 307.6,898.3 308.1,899.0 308.1,899.1 306.5,899.3 302.5,896.9 299.1,893.1 294.5,890.8 290.6,888.4 286.1,887.5 282.9,886.1 278.9,883.1 276.5,880.8 274.8,879.3 273.2,879.8 270.8,880.8 268.4,880.0 266.4,879.3 263.9,877.1 261.5,876.1 259.5,876.0 257.9,875.1 257.3,870.8 256.7,862.8 256.7,862.5" fill="url(#hB2)" stroke="none"/>
<g fill="none" stroke-width="3.4" stroke-linejoin="round" stroke-linecap="round">
<path stroke="#ff0000" d="M105.5,846.7 C109.6,846.6 128.6,846.2 136.4,846.0 C144.2,845.8 156.9,845.8 163.7,845.5 C170.5,845.2 183.4,844.1 187.3,843.6 C191.2,843.1 191.3,841.8 192.8,841.8 C194.3,841.8 196.6,843.0 198.3,843.6 C200.0,844.2 204.2,846.0 205.5,846.4 C206.8,846.8 207.8,846.3 208.0,846.3 C208.2,846.3 206.9,846.1 207.0,846.0 C207.1,846.0 207.3,846.0 208.6,846.0 C209.9,845.9 214.4,845.5 216.6,845.5 C218.9,845.4 222.8,845.3 225.8,845.3 C228.8,845.3 236.4,845.7 239.2,845.6 C242.1,845.6 245.5,845.0 247.3,844.9 C249.1,844.7 251.7,844.6 252.7,844.6 C253.6,844.7 252.5,845.2 254.3,845.3 C256.0,845.4 263.2,845.4 265.9,845.4 C268.6,845.4 272.2,845.5 274.5,845.4 C276.8,845.2 281.4,844.5 283.0,844.2 C284.6,843.8 285.7,843.1 286.5,842.8 C287.3,842.4 288.6,841.9 289.3,841.7 C290.0,841.6 291.0,841.6 291.6,841.7 C292.2,841.9 293.4,842.4 293.9,842.8 C294.5,843.1 295.3,843.7 295.6,844.2 C295.9,844.7 296.1,845.3 296.2,846.5 C296.3,847.8 296.4,851.8 296.5,853.6 C296.5,855.4 296.6,858.9 296.7,860.2 C296.9,861.4 297.5,862.0 297.9,863.0 C298.3,864.0 299.2,866.5 299.6,867.7 C300.1,868.9 300.9,871.0 301.3,872.0 C301.8,873.0 302.7,874.3 303.0,875.3 C303.4,876.3 303.8,878.1 304.2,879.5 C304.6,880.9 305.4,884.1 305.9,885.6 C306.4,887.1 307.2,889.6 307.6,890.8 C308.1,892.0 308.9,893.6 309.3,894.6 C309.7,895.5 310.0,897.1 310.5,897.9 C310.9,898.7 312.2,899.8 312.8,900.7 C313.3,901.6 313.9,903.3 314.5,904.4 C315.1,905.6 316.6,907.9 317.3,909.2 C318.1,910.5 319.4,913.2 320.2,914.4 C321.0,915.5 322.2,916.9 323.0,917.7 C323.9,918.4 325.7,919.5 326.5,920.0 C327.3,920.5 327.6,920.1 328.8,921.2 C329.9,922.2 333.1,926.4 335.0,928.0 C336.9,929.6 340.9,932.1 343.3,933.3 C345.7,934.5 351.1,935.5 353.3,936.7 C355.5,937.9 357.1,941.2 360.0,942.5 C362.9,943.8 372.3,946.3 375.0,946.7 C377.7,947.1 378.2,946.3 380.0,945.8 C381.8,945.3 386.1,943.1 388.3,943.0 C390.5,942.9 394.5,943.8 396.7,945.0 C398.9,946.2 402.8,950.2 405.0,951.7 C407.2,953.2 410.0,955.2 413.3,956.3 C416.6,957.4 424.4,959.0 430.0,959.7 C435.6,960.4 448.3,961.0 455.0,961.7 C461.7,962.4 472.2,964.2 480.0,965.0 C487.8,965.8 505.3,966.8 513.3,967.5 C521.3,968.2 535.3,969.6 540.0,970.0 C544.7,970.4 546.1,971.4 548.3,970.8 C550.5,970.2 554.2,966.9 556.7,965.8 C559.2,964.7 562.7,962.8 566.7,962.5 C570.7,962.2 582.9,963.1 586.7,963.7 C590.5,964.3 592.3,965.8 595.0,966.7 C597.7,967.6 602.9,970.1 606.7,970.8 C610.5,971.5 616.6,971.5 623.3,971.7 C630.0,971.9 650.0,972.2 656.7,972.5 C663.4,972.8 666.6,973.0 673.3,973.7 C680.0,974.4 697.8,976.6 706.7,977.5 C715.6,978.4 734.2,980.3 740.0,980.8 C745.8,981.3 746.4,980.8 750.0,981.3 C753.6,981.8 762.7,983.5 766.7,984.2 C770.7,984.9 776.2,985.8 780.0,986.7 C783.8,987.6 791.2,989.9 795.0,990.8 C798.8,991.7 803.6,993.1 808.3,993.8 C813.0,994.5 822.2,996.0 830.0,996.3 C837.8,996.6 857.4,995.9 866.7,995.8 C876.0,995.7 887.6,995.0 900.0,995.3 C912.4,995.6 943.1,997.2 960.0,997.8 C976.9,998.4 1013.8,999.5 1026.7,999.5 C1039.6,999.5 1051.2,997.7 1056.7,997.5 C1062.2,997.3 1065.2,997.1 1068.3,998.3 C1071.4,999.5 1076.9,1004.5 1080.0,1006.7 C1083.1,1008.9 1087.7,1012.2 1091.7,1015.0 C1095.7,1017.8 1105.3,1024.2 1110.0,1027.5 C1114.7,1030.8 1123.1,1038.2 1126.7,1040.0 C1130.3,1041.8 1134.0,1041.9 1136.7,1041.3 C1139.4,1040.7 1143.6,1035.9 1146.7,1035.8 C1149.8,1035.7 1156.9,1040.8 1160.0,1040.8 C1163.1,1040.8 1167.4,1036.2 1170.0,1035.8 C1172.6,1035.4 1176.6,1037.1 1179.8,1037.5 C1183.0,1037.9 1189.8,1038.4 1194.0,1039.0 C1198.2,1039.6 1207.4,1042.1 1211.0,1042.0 C1214.6,1041.9 1218.3,1038.0 1221.3,1038.3 C1224.3,1038.6 1231.1,1043.3 1233.7,1044.5 C1236.3,1045.7 1240.1,1046.7 1241.1,1047.0"/>
<path stroke="#33e833" d="M105.5,846.3 C109.6,846.2 128.6,845.8 136.4,845.6 C144.2,845.4 156.9,845.4 163.7,845.1 C170.5,844.8 183.4,843.7 187.3,843.2 C191.2,842.7 191.3,841.4 192.8,841.4 C194.3,841.4 196.6,842.6 198.3,843.2 C200.0,843.8 204.2,845.6 205.5,846.0 C206.8,846.4 207.8,846.0 208.0,845.9 C208.2,845.8 206.9,845.6 207.0,845.6 C207.1,845.5 207.3,845.6 208.6,845.6 C209.9,845.5 214.4,845.2 216.6,845.1 C218.9,845.0 222.8,844.9 225.8,844.9 C228.8,844.9 236.4,845.3 239.2,845.2 C242.1,845.2 245.5,844.6 247.3,844.5 C249.1,844.4 251.7,844.2 252.7,844.3 C253.6,844.3 254.0,844.3 254.3,844.9 C254.6,845.5 254.9,847.2 255.1,848.6 C255.4,850.0 256.0,854.1 256.2,855.3 C256.4,856.5 256.5,856.8 256.7,857.4 C256.9,857.9 257.3,858.9 257.5,859.3 C257.8,859.7 258.1,860.1 258.4,860.4 C258.8,860.7 259.5,861.1 260.3,861.5 C261.1,861.9 263.4,863.1 264.4,863.5 C265.3,863.9 266.7,864.5 267.6,864.7 C268.5,864.8 269.9,864.6 270.8,864.5 C271.7,864.4 273.7,864.2 274.4,864.2 C275.2,864.2 275.9,864.2 276.5,864.5 C277.0,864.8 277.9,865.6 278.5,866.2 C279.0,866.8 279.9,868.1 280.5,868.8 C281.0,869.6 282.0,871.1 282.5,871.8 C283.1,872.6 283.7,873.8 284.5,874.5 C285.3,875.2 287.6,876.5 288.5,877.1 C289.5,877.8 290.9,878.6 291.8,879.5 C292.7,880.3 294.5,881.9 295.6,883.3 C296.7,884.6 299.1,888.0 300.2,889.4 C301.3,890.8 302.6,892.9 303.6,894.1 C304.6,895.3 306.8,897.3 307.6,898.3 C308.5,899.4 309.2,901.1 309.9,902.1 C310.7,903.1 312.3,905.2 313.3,905.9 C314.3,906.6 316.3,907.2 317.3,907.5 C318.4,907.8 320.4,908.1 321.3,908.0 C322.3,907.8 323.4,907.0 324.2,906.4 C324.9,905.7 326.1,903.6 327.0,903.1 C328.0,902.6 330.2,902.6 331.0,902.6 C331.9,902.5 332.6,902.5 333.1,902.5 C333.6,902.6 334.3,902.5 335.0,902.8 C335.7,903.1 335.4,903.1 338.3,905.0 C341.2,906.9 353.4,915.8 356.7,917.2 C360.0,918.6 360.6,915.4 363.3,915.3 C366.0,915.2 373.4,916.3 376.7,916.3 C380.0,916.3 385.2,914.8 388.3,915.0 C391.4,915.2 397.8,917.6 400.0,918.0 C402.2,918.4 402.8,918.2 405.0,918.0 C407.2,917.8 413.8,915.9 416.7,916.3 C419.6,916.7 422.7,920.6 426.7,921.3 C430.7,922.0 439.6,921.6 446.7,921.7 C453.8,921.8 473.3,921.8 480.0,921.7 C486.7,921.6 492.3,921.1 496.7,920.8 C501.1,920.5 507.5,919.8 513.3,919.7 C519.1,919.6 534.2,919.7 540.0,919.7 C545.8,919.7 550.0,919.8 556.7,919.7 C563.4,919.6 581.1,919.3 590.0,919.2 C598.9,919.1 614.4,919.1 623.3,919.2 C632.2,919.3 650.2,919.8 656.7,919.7 C663.2,919.6 668.4,918.9 671.7,918.3 C675.0,917.7 679.3,915.5 681.7,915.0 C684.1,914.5 686.9,914.4 690.0,914.2 C693.1,914.0 702.1,912.9 705.0,913.3 C707.9,913.7 709.9,916.6 711.7,917.5 C713.5,918.4 716.1,919.0 718.3,920.0 C720.5,921.0 725.4,922.9 728.3,925.0 C731.2,927.1 737.1,933.3 740.0,935.8 C742.9,938.3 747.3,941.4 750.0,943.7 C752.7,946.0 757.1,950.6 760.0,953.3 C762.9,956.0 768.6,961.5 771.7,964.2 C774.8,966.9 779.8,970.4 783.3,973.3 C786.8,976.2 795.0,983.6 798.3,985.8 C801.6,988.0 805.4,989.1 808.3,990.0 C811.2,990.9 816.9,991.7 820.0,992.5 C823.1,993.3 827.7,995.9 831.7,996.3 C835.7,996.7 844.2,995.7 850.0,995.8 C855.8,995.9 869.9,996.4 875.0,996.7 C880.1,997.0 885.0,997.8 888.3,998.0 C891.6,998.2 897.1,998.7 900.0,998.3 C902.9,997.9 905.6,995.5 910.0,995.3 C914.4,995.1 926.6,996.6 933.3,997.0 C940.0,997.4 952.0,997.9 960.0,998.3 C968.0,998.7 984.4,999.5 993.3,999.7 C1002.2,999.9 1017.8,1000.2 1026.7,1000.0 C1035.6,999.8 1054.2,998.3 1060.0,998.3 C1065.8,998.3 1067.3,998.8 1070.0,999.7 C1072.7,1000.6 1076.9,1003.2 1080.0,1005.0 C1083.1,1006.8 1089.3,1010.5 1093.3,1013.3 C1097.3,1016.1 1105.5,1022.5 1110.0,1025.8 C1114.5,1029.1 1123.1,1036.4 1126.7,1038.3 C1130.3,1040.2 1133.6,1040.3 1136.7,1040.0 C1139.8,1039.7 1146.5,1035.9 1150.0,1035.8 C1153.5,1035.7 1159.8,1039.0 1163.3,1039.2 C1166.8,1039.4 1172.5,1037.2 1176.6,1037.1 C1180.7,1037.0 1190.4,1038.5 1194.0,1038.8 C1197.6,1039.1 1201.6,1039.1 1203.9,1039.5 C1206.2,1039.9 1209.0,1042.0 1211.3,1042.0 C1213.6,1042.0 1218.6,1039.3 1221.3,1039.5 C1224.0,1039.7 1228.2,1042.4 1231.2,1043.3 C1234.2,1044.2 1241.9,1045.8 1243.6,1046.2"/>
<path stroke="#0000ff" d="M105.5,847.2 C109.6,847.1 128.6,846.7 136.4,846.5 C144.2,846.3 156.9,846.3 163.7,846.0 C170.5,845.7 183.4,844.6 187.3,844.1 C191.2,843.6 191.3,842.3 192.8,842.3 C194.3,842.3 196.6,843.5 198.3,844.1 C200.0,844.7 204.2,846.5 205.5,846.9 C206.8,847.3 207.8,846.8 208.0,846.8 C208.2,846.8 206.9,846.6 207.0,846.6 C207.1,846.5 207.3,846.6 208.6,846.5 C209.9,846.4 214.4,846.0 216.6,846.0 C218.9,845.9 222.8,845.9 225.8,845.9 C228.8,845.9 236.4,846.3 239.2,846.2 C242.1,846.2 245.5,845.6 247.3,845.5 C249.1,845.3 251.7,845.2 252.7,845.2 C253.6,845.3 253.9,845.2 254.3,845.9 C254.6,846.7 255.1,849.2 255.4,850.9 C255.6,852.5 256.0,856.8 256.2,858.4 C256.3,860.0 256.6,861.2 256.7,862.8 C256.9,864.5 257.1,869.2 257.3,870.8 C257.4,872.4 257.6,874.5 257.9,875.1 C258.2,875.8 259.0,875.8 259.5,876.0 C260.0,876.1 261.0,876.0 261.5,876.1 C262.1,876.3 263.3,876.7 263.9,877.1 C264.6,877.5 265.8,878.9 266.4,879.3 C267.0,879.7 267.8,879.8 268.4,880.0 C269.0,880.2 270.2,880.8 270.8,880.8 C271.5,880.8 272.7,880.0 273.2,879.8 C273.8,879.6 274.4,879.2 274.8,879.3 C275.3,879.4 275.9,880.3 276.5,880.8 C277.0,881.3 278.0,882.4 278.9,883.1 C279.7,883.8 282.0,885.5 282.9,886.1 C283.9,886.7 285.1,887.1 286.1,887.5 C287.2,887.8 289.5,888.0 290.6,888.4 C291.7,888.9 293.3,890.2 294.5,890.8 C295.6,891.4 298.0,892.3 299.1,893.1 C300.1,894.0 301.5,896.1 302.5,896.9 C303.5,897.8 305.6,899.0 306.5,899.3 C307.4,899.5 308.4,898.9 309.3,899.0 C310.2,899.2 312.0,899.7 313.3,900.2 C314.7,900.7 318.3,902.7 319.6,903.1 C320.9,903.4 322.1,902.9 323.0,903.0 C323.9,903.0 325.4,903.5 326.5,903.5 C327.6,903.6 330.2,903.3 331.0,903.3 C331.9,903.3 332.6,903.2 333.1,903.3 C333.6,903.3 333.2,904.0 335.0,903.7 C336.8,903.4 343.6,901.1 346.7,900.8 C349.8,900.5 356.1,900.9 358.3,901.7 C360.5,902.5 361.3,905.0 363.3,906.7 C365.3,908.4 371.3,912.9 373.3,914.2 C375.3,915.5 377.0,915.9 378.3,916.3 C379.6,916.7 382.2,917.1 383.3,917.5 C384.4,917.9 385.6,919.0 386.7,919.2 C387.8,919.4 390.4,919.1 391.7,918.8 C393.0,918.5 395.4,917.0 396.7,916.7 C398.0,916.4 399.9,916.5 401.7,916.3 C403.5,916.1 408.2,915.8 410.0,915.5 C411.8,915.2 413.7,913.9 415.0,913.7 C416.3,913.5 418.9,913.9 420.0,914.2 C421.1,914.5 422.0,915.8 423.3,915.8 C424.6,915.8 428.2,914.5 430.0,914.2 C431.8,913.9 435.4,913.5 436.7,913.7 C438.0,913.9 439.1,915.9 440.0,915.8 C440.9,915.7 440.6,913.2 443.3,913.0 C446.0,912.8 457.3,914.5 460.0,914.2 C462.7,913.9 461.1,910.8 463.3,910.5 C465.5,910.2 474.5,911.9 476.7,911.7 C478.9,911.5 477.3,909.2 480.0,908.7 C482.7,908.2 492.7,908.5 496.7,908.3 C500.7,908.1 507.3,907.4 510.0,907.5 C512.7,907.6 514.5,908.0 516.7,909.2 C518.9,910.4 523.8,914.9 526.7,916.7 C529.6,918.5 534.8,921.0 538.3,922.5 C541.8,924.0 547.5,927.2 553.3,928.0 C559.1,928.8 574.6,928.2 581.7,928.7 C588.8,929.2 600.0,931.1 606.7,931.7 C613.4,932.3 626.2,932.5 631.7,933.0 C637.2,933.5 645.0,935.2 648.3,935.8 C651.6,936.4 652.2,937.4 656.7,937.5 C661.2,937.6 676.2,936.6 681.7,936.7 C687.2,936.8 695.0,937.7 698.3,938.3 C701.6,938.9 703.4,940.9 706.7,941.3 C710.0,941.7 718.9,941.4 723.3,941.3 C727.7,941.2 736.0,940.6 740.0,940.3 C744.0,940.0 750.9,939.0 753.3,939.2 C755.7,939.4 756.7,941.1 758.0,942.0 C759.3,942.9 761.9,945.4 763.3,945.8 C764.7,946.2 766.7,944.5 768.3,944.7 C769.9,944.9 773.2,946.9 775.0,947.0 C776.8,947.1 779.5,944.9 781.7,945.3 C783.9,945.7 789.5,948.4 791.7,949.7 C793.9,951.0 796.3,954.1 798.3,955.0 C800.3,955.9 804.0,956.5 806.7,956.7 C809.4,956.9 815.9,956.1 818.3,956.3 C820.7,956.5 822.1,956.6 825.0,958.3 C827.9,960.0 836.2,966.1 840.0,969.2 C843.8,972.3 849.7,978.6 853.3,981.7 C856.9,984.8 863.1,989.7 866.7,992.5 C870.3,995.3 876.7,1000.2 880.0,1002.5 C883.3,1004.8 889.3,1009.1 891.7,1009.7 C894.1,1010.3 896.1,1007.3 898.3,1007.0 C900.5,1006.7 905.6,1007.1 908.3,1007.5 C911.0,1007.9 915.0,1009.5 918.3,1009.7 C921.6,1009.9 929.1,1008.7 933.3,1008.7 C937.5,1008.7 946.4,1009.3 950.0,1009.5 C953.6,1009.7 956.9,1010.0 960.0,1010.0 C963.1,1010.0 970.7,1010.2 973.3,1009.7 C975.9,1009.2 977.6,1006.6 979.2,1006.3 C980.8,1006.0 980.9,1007.2 985.0,1007.5 C989.1,1007.8 1002.2,1007.9 1010.0,1008.3 C1017.8,1008.7 1034.9,1010.4 1043.3,1010.8 C1051.7,1011.2 1066.6,1011.4 1073.3,1011.3 C1080.0,1011.2 1087.3,1010.6 1093.3,1010.3 C1099.3,1010.0 1112.5,1009.3 1118.3,1009.2 C1124.1,1009.1 1132.2,1008.9 1136.7,1009.2 C1141.2,1009.5 1147.5,1009.8 1151.7,1011.7 C1155.9,1013.6 1164.6,1020.5 1168.3,1023.3 C1172.0,1026.1 1175.9,1029.3 1179.8,1032.5 C1183.7,1035.7 1195.3,1045.1 1197.7,1047.0"/>
<path stroke="#ffff00" d="M105.5,846.7 C109.6,846.6 128.6,846.2 136.4,846.0 C144.2,845.8 156.9,845.8 163.7,845.5 C170.5,845.2 183.4,844.1 187.3,843.6 C191.2,843.1 191.3,841.8 192.8,841.8 C194.3,841.8 196.6,843.0 198.3,843.6 C200.0,844.2 204.2,846.0 205.5,846.4 C206.8,846.8 207.8,846.3 208.0,846.3 C208.2,846.3 206.9,846.1 207.0,846.0 C207.1,846.0 207.3,846.0 208.6,846.0 C209.9,845.9 214.4,845.5 216.6,845.5 C218.9,845.4 222.8,845.3 225.8,845.3 C228.8,845.3 236.4,845.7 239.2,845.6 C242.1,845.6 245.5,845.0 247.3,844.9 C249.1,844.7 251.7,844.6 252.7,844.6 C253.6,844.7 254.0,844.9 254.3,845.3 C254.6,845.7 254.9,846.7 255.1,847.8 C255.3,848.8 255.5,851.6 255.7,853.1 C255.8,854.5 256.2,857.2 256.4,858.4 C256.7,859.6 257.1,861.0 257.3,861.9 C257.5,862.9 257.7,864.7 258.1,865.5 C258.4,866.3 259.5,868.0 259.9,868.2 C260.4,868.3 260.9,867.2 261.3,866.8 C261.7,866.5 262.4,865.7 262.9,865.5 C263.4,865.3 264.4,865.3 265.0,865.4 C265.7,865.5 267.2,865.9 268.0,866.3 C268.8,866.8 270.0,868.0 270.8,868.5 C271.6,869.0 273.3,869.5 274.0,869.8 C274.8,870.2 275.6,870.7 276.5,871.2 C277.3,871.6 279.4,872.6 280.5,873.0 C281.6,873.4 283.5,873.9 284.5,874.1 C285.6,874.3 287.1,874.4 288.5,874.5 C290.0,874.5 293.4,874.4 295.4,874.5 C297.3,874.5 300.9,874.9 303.0,875.0 C305.2,875.1 308.9,875.0 311.6,875.0 C314.3,875.0 320.4,874.9 323.0,874.8 C325.6,874.7 329.7,874.6 331.0,874.6 C332.4,874.5 332.6,874.5 333.1,874.5 C333.6,874.5 333.2,874.5 335.0,874.6 C336.8,874.7 342.9,874.8 346.7,875.0 C350.5,875.2 358.9,875.8 363.3,876.3 C367.7,876.8 375.5,878.4 380.0,878.7 C384.5,879.0 392.9,878.9 396.7,878.3 C400.5,877.7 405.6,875.4 408.3,874.2 C411.0,873.0 414.7,869.5 416.7,869.2 C418.7,868.9 420.6,870.3 423.3,871.7 C426.0,873.1 433.1,877.7 436.7,880.0 C440.3,882.3 446.5,887.3 450.0,889.2 C453.5,891.1 459.3,892.1 463.3,894.2 C467.3,896.3 476.7,903.1 480.0,905.0 C483.3,906.9 486.1,907.2 488.3,908.3 C490.5,909.4 494.5,912.2 496.7,913.3 C498.9,914.4 501.7,915.7 505.0,916.3 C508.3,916.9 517.3,917.2 521.7,917.5 C526.1,917.8 535.0,918.7 538.3,918.7 C541.6,918.7 544.2,917.5 546.7,917.5 C549.2,917.5 554.3,918.4 556.7,918.7 C559.1,919.0 563.0,919.9 565.0,919.7 C567.0,919.5 569.7,917.0 571.7,917.0 C573.7,917.0 577.6,918.7 580.0,919.7 C582.4,920.7 586.4,923.0 590.0,924.2 C593.6,925.4 603.1,927.8 606.7,928.7 C610.3,929.6 614.7,930.1 616.7,930.8 C618.7,931.5 620.4,933.5 621.7,933.7 C623.0,933.9 624.7,932.3 626.7,932.5 C628.7,932.7 632.7,934.7 636.7,935.3 C640.7,935.9 650.7,936.5 656.7,936.7 C662.7,936.9 675.0,936.8 681.7,937.0 C688.4,937.2 702.0,937.9 706.7,938.3 C711.4,938.7 713.4,939.7 716.7,939.7 C720.0,939.7 727.5,938.6 731.7,938.3 C735.9,938.0 744.8,937.8 748.3,937.5 C751.8,937.2 755.4,935.5 758.3,935.8 C761.2,936.1 767.1,939.9 770.0,939.7 C772.9,939.5 777.1,935.9 780.0,934.2 C782.9,932.5 788.8,928.6 791.7,926.7 C794.6,924.8 798.8,920.5 801.7,919.7 C804.6,918.9 810.2,920.3 813.3,920.8 C816.4,921.3 822.5,923.0 825.0,923.3 C827.5,923.6 829.5,923.7 831.7,923.3 C833.9,922.9 838.6,919.9 841.7,920.0 C844.8,920.1 851.7,924.2 855.0,924.2 C858.3,924.2 864.3,920.0 866.7,919.7 C869.1,919.4 871.5,921.1 873.3,921.7 C875.1,922.3 877.5,923.8 880.0,924.2 C882.5,924.6 889.0,924.2 891.7,924.7 C894.4,925.2 897.1,927.4 900.0,928.0 C902.9,928.6 910.0,928.4 913.3,929.2 C916.6,930.0 921.7,932.4 925.0,934.2 C928.3,936.0 935.0,940.4 938.3,942.5 C941.6,944.6 946.7,947.8 950.0,950.0 C953.3,952.2 960.2,957.5 963.3,959.2 C966.4,960.9 970.4,961.2 973.3,962.5 C976.2,963.8 982.3,967.8 985.0,969.2 C987.7,970.6 990.9,972.5 993.3,973.3 C995.7,974.1 1000.6,975.3 1003.3,975.0 C1006.0,974.7 1010.2,972.1 1013.3,970.8 C1016.4,969.5 1023.8,965.7 1026.7,965.0 C1029.6,964.3 1032.6,965.9 1035.0,965.8 C1037.4,965.7 1042.9,964.1 1045.0,964.2 C1047.1,964.3 1049.2,966.7 1050.8,966.7 C1052.4,966.7 1054.6,964.0 1056.7,964.2 C1058.8,964.4 1063.5,966.2 1066.7,968.3 C1069.9,970.4 1077.7,978.8 1080.8,979.7 C1083.9,980.6 1087.7,975.2 1090.0,975.0 C1092.3,974.8 1094.5,977.0 1098.3,978.0 C1102.1,979.0 1112.3,981.8 1118.3,982.5 C1124.3,983.2 1137.8,983.1 1143.3,983.3 C1148.8,983.5 1150.8,983.5 1159.2,983.7 C1167.6,983.9 1198.5,984.8 1206.4,985.0 C1214.3,985.2 1215.2,986.2 1218.8,985.0 C1222.4,983.8 1230.4,978.3 1233.7,976.3 C1237.0,974.3 1241.3,971.3 1243.6,970.1 C1245.9,968.9 1249.3,967.7 1251.0,967.6 C1252.7,967.5 1253.3,969.4 1256.0,969.3 C1258.7,969.2 1268.9,967.2 1270.9,966.9"/>
</g>
<line x1="256.4" y1="821.4" x2="256.4" y2="844.1" stroke="#2e2e2e" stroke-width="1"/>
<line x1="297.3" y1="821.4" x2="297.3" y2="844.1" stroke="#2e2e2e" stroke-width="1"/>
<line x1="256.4" y1="821.4" x2="261.4" y2="821.4" stroke="#2e2e2e" stroke-width="1"/>
<line x1="289.0" y1="821.4" x2="297.3" y2="821.4" stroke="#2e2e2e" stroke-width="1"/>
<text x="261.4" y="823.0" font-size="11.5" textLength="27.3" lengthAdjust="spacingAndGlyphs" stroke="#000" stroke-width="0.3">7,44 м</text>
<line x1="275.0" y1="845.0" x2="312.8" y2="845.0" stroke="#2e2e2e" stroke-width="1"/>
<line x1="312.8" y1="845.0" x2="312.8" y2="864.6" stroke="#2e2e2e" stroke-width="1"/>
<line x1="242.3" y1="864.6" x2="256.4" y2="864.6" stroke="#2e2e2e" stroke-width="1"/>
<line x1="275.0" y1="864.6" x2="312.8" y2="864.6" stroke="#2e2e2e" stroke-width="1"/>
<text x="297.8" y="858.7" font-size="11.5" textLength="27.8" lengthAdjust="spacingAndGlyphs" stroke="#000" stroke-width="0.3">3,40 м</text>
<line x1="242.5" y1="876.5" x2="242.5" y2="880.5" stroke="#2e2e2e" stroke-width="1"/>
<line x1="242.3" y1="880.0" x2="257.8" y2="880.0" stroke="#2e2e2e" stroke-width="1"/>
<text x="224.1" y="871.9" font-size="11.5" textLength="28.2" lengthAdjust="spacingAndGlyphs" stroke="#000" stroke-width="0.3">2,65 м</text>
<line x1="257.3" y1="863.2" x2="257.3" y2="895.0" stroke="#2e2e2e" stroke-width="1"/>
<line x1="276.9" y1="864.6" x2="276.9" y2="895.0" stroke="#2e2e2e" stroke-width="1"/>
<line x1="257.3" y1="895.0" x2="276.9" y2="895.0" stroke="#2e2e2e" stroke-width="1"/>
<text x="224.1" y="898.7" font-size="11.5" textLength="28.2" lengthAdjust="spacingAndGlyphs" stroke="#000" stroke-width="0.3">3,56 м</text>
<rect x="190.2" y="802.3" width="147.6" height="115" fill="none" stroke="#ff0000" stroke-width="2.8"/>
<line x1="342.1" y1="855.9" x2="690.1" y2="736.0" stroke="#ff0000" stroke-width="2.8" marker-end="url(#arr)"/>
<rect x="728" y="580.3" width="314.5" height="322.6" fill="#fff" stroke="none"/>
<g clip-path="url(#cIB)">
<line x1="728.0" y1="655.7" x2="1043.0" y2="655.7" stroke="#a6a6a6" stroke-width="1.1"/>
<line x1="728.0" y1="767.6" x2="1043.0" y2="767.6" stroke="#a6a6a6" stroke-width="1.1"/>
<line x1="749.4" y1="655.7" x2="749.4" y2="903.0" stroke="#a6a6a6" stroke-width="1.1"/>
<line x1="1029.2" y1="655.7" x2="1029.2" y2="903.0" stroke="#a6a6a6" stroke-width="1.1"/>
</g>
<polygon points="845.4,670.8 875.0,670.9 896.8,670.9 918.6,667.3 927.4,662.9 934.6,659.7 940.4,659.7 946.3,662.9 950.6,667.3 952.1,674.5 952.8,696.3 953.5,716.7 956.4,725.4 960.8,740.0 965.2,753.1 969.5,763.3 972.4,776.4 976.8,795.3 981.2,811.3 985.5,822.9 988.4,833.1 994.3,841.8 998.6,853.4 1002.0,860.2 1002.0,860.9 995.7,857.8 987.0,846.2 982.3,836.7 982.3,837.0 978.3,837.4 968.1,830.2 959.4,818.5 947.7,811.3 937.8,803.9 926.5,800.9 918.3,796.8 908.0,787.5 901.9,780.3 897.7,775.7 893.6,777.3 887.5,780.3 881.3,777.8 876.2,775.7 870.0,769.0 863.9,766.0 858.7,765.4 854.6,762.9 853.0,749.5 851.6,724.9 850.2,711.2 848.2,687.9 845.4,672.6" fill="url(#hIB1)" stroke="none" clip-path="url(#cIB)"/>
<polygon points="851.5,708.0 853.7,713.9 856.0,717.5 860.8,720.8 871.1,727.0 879.3,730.5 887.5,730.0 896.7,729.0 901.9,730.0 907.0,735.2 912.1,743.4 917.3,752.6 922.4,760.8 932.6,769.0 940.9,776.2 950.6,788.0 962.3,806.9 971.0,821.4 981.2,834.5 982.3,836.7 982.3,837.0 978.3,837.4 968.1,830.2 959.4,818.5 947.7,811.3 937.8,803.9 926.5,800.9 918.3,796.8 908.0,787.5 901.9,780.3 897.7,775.7 893.6,777.3 887.5,780.3 881.3,777.8 876.2,775.7 870.0,769.0 863.9,766.0 858.7,765.4 854.6,762.9 853.0,749.5 851.6,724.9 851.5,723.9" fill="url(#hIB2)" stroke="none" clip-path="url(#cIB)"/>
<g fill="none" stroke-width="3.4" stroke-linejoin="round" stroke-linecap="round" clip-path="url(#cIB)">
<path stroke="#ff0000" d="M725.0,673.0 C725.5,673.0 725.8,673.0 729.1,672.8 C732.4,672.6 743.8,671.5 749.6,671.2 C755.4,670.9 765.2,670.7 772.9,670.8 C780.6,670.9 799.8,672.0 807.1,671.8 C814.4,671.6 823.1,669.8 827.7,669.4 C832.3,669.0 838.9,668.5 841.3,668.7 C843.7,668.9 840.9,670.5 845.4,670.8 C849.9,671.1 868.1,670.9 875.0,670.9 C881.9,670.9 891.0,671.4 896.8,670.9 C902.6,670.4 914.5,668.4 918.6,667.3 C922.7,666.2 925.3,663.9 927.4,662.9 C929.5,661.9 932.9,660.1 934.6,659.7 C936.3,659.3 938.8,659.3 940.4,659.7 C942.0,660.1 944.9,661.9 946.3,662.9 C947.7,663.9 949.8,665.8 950.6,667.3 C951.4,668.8 951.8,670.6 952.1,674.5 C952.4,678.4 952.6,690.7 952.8,696.3 C953.0,701.9 953.0,712.8 953.5,716.7 C954.0,720.6 955.4,722.3 956.4,725.4 C957.4,728.5 959.6,736.3 960.8,740.0 C962.0,743.7 964.0,750.0 965.2,753.1 C966.4,756.2 968.5,760.2 969.5,763.3 C970.5,766.4 971.4,772.1 972.4,776.4 C973.4,780.7 975.6,790.6 976.8,795.3 C978.0,800.0 980.0,807.6 981.2,811.3 C982.4,815.0 984.5,820.0 985.5,822.9 C986.5,825.8 987.2,830.6 988.4,833.1 C989.6,835.6 992.9,839.1 994.3,841.8 C995.7,844.5 997.1,849.9 998.6,853.4 C1000.1,856.9 1004.0,863.9 1005.9,868.0 C1007.8,872.1 1011.3,880.5 1013.2,884.0 C1015.1,887.5 1018.3,891.9 1020.4,894.2 C1022.5,896.5 1027.3,900.0 1029.2,901.4 C1031.1,902.8 1034.2,904.5 1035.0,905.0"/>
<path stroke="#33e833" d="M725.0,671.6 C725.5,671.6 725.8,671.7 729.1,671.5 C732.4,671.3 743.8,670.3 749.6,670.0 C755.4,669.7 765.2,669.4 772.9,669.5 C780.6,669.6 799.8,670.7 807.1,670.5 C814.4,670.3 823.1,668.6 827.7,668.2 C832.3,667.8 838.9,667.3 841.3,667.5 C843.7,667.7 844.6,667.7 845.4,669.5 C846.2,671.3 846.9,676.7 847.5,681.0 C848.1,685.3 849.7,698.0 850.2,701.6 C850.7,705.2 851.0,706.4 851.5,708.0 C852.0,709.6 853.1,712.6 853.7,713.9 C854.3,715.2 855.1,716.6 856.0,717.5 C856.9,718.4 858.8,719.5 860.8,720.8 C862.8,722.1 868.6,725.7 871.1,727.0 C873.6,728.3 877.1,730.1 879.3,730.5 C881.5,730.9 885.2,730.2 887.5,730.0 C889.8,729.8 894.8,729.0 896.7,729.0 C898.6,729.0 900.5,729.2 901.9,730.0 C903.3,730.8 905.6,733.4 907.0,735.2 C908.4,737.0 910.7,741.1 912.1,743.4 C913.5,745.7 915.9,750.3 917.3,752.6 C918.7,754.9 920.4,758.6 922.4,760.8 C924.4,763.0 930.1,766.9 932.6,769.0 C935.1,771.1 938.5,773.7 940.9,776.2 C943.3,778.7 947.7,783.9 950.6,788.0 C953.5,792.1 959.6,802.4 962.3,806.9 C965.0,811.4 968.5,817.7 971.0,821.4 C973.5,825.1 979.1,831.2 981.2,834.5 C983.3,837.8 985.1,843.1 987.0,846.2 C988.9,849.3 993.2,855.6 995.7,857.8 C998.2,860.0 1003.2,862.0 1005.9,862.9 C1008.6,863.8 1013.8,864.8 1016.1,864.3 C1018.4,863.8 1021.4,861.3 1023.3,859.3 C1025.2,857.3 1028.3,850.7 1030.6,849.1 C1032.9,847.5 1038.7,847.8 1040.8,847.6 C1042.9,847.4 1045.3,847.5 1046.0,847.5"/>
<path stroke="#0000ff" d="M725.0,674.6 C725.5,674.6 725.8,674.6 729.1,674.4 C732.4,674.2 743.8,673.0 749.6,672.8 C755.4,672.6 765.2,672.5 772.9,672.6 C780.6,672.7 799.8,673.8 807.1,673.6 C814.4,673.4 823.1,671.6 827.7,671.2 C832.3,670.8 838.9,670.3 841.3,670.5 C843.7,670.7 844.5,670.3 845.4,672.6 C846.3,674.9 847.6,682.8 848.2,687.9 C848.8,693.0 849.7,706.3 850.2,711.2 C850.7,716.1 851.2,719.8 851.6,724.9 C852.0,730.0 852.6,744.4 853.0,749.5 C853.4,754.6 853.8,760.8 854.6,762.9 C855.4,765.0 857.5,765.0 858.7,765.4 C859.9,765.8 862.4,765.5 863.9,766.0 C865.4,766.5 868.4,767.7 870.0,769.0 C871.6,770.3 874.7,774.5 876.2,775.7 C877.7,776.9 879.8,777.2 881.3,777.8 C882.8,778.4 885.9,780.4 887.5,780.3 C889.1,780.2 892.2,777.9 893.6,777.3 C895.0,776.7 896.6,775.3 897.7,775.7 C898.8,776.1 900.5,778.7 901.9,780.3 C903.3,781.9 905.8,785.3 908.0,787.5 C910.2,789.7 915.8,795.0 918.3,796.8 C920.8,798.6 923.9,800.0 926.5,800.9 C929.1,801.8 935.0,802.5 937.8,803.9 C940.6,805.3 944.8,809.4 947.7,811.3 C950.6,813.2 956.7,816.0 959.4,818.5 C962.1,821.0 965.6,827.7 968.1,830.2 C970.6,832.7 976.0,836.5 978.3,837.4 C980.6,838.3 983.2,836.3 985.5,836.7 C987.8,837.1 992.2,838.6 995.7,840.3 C999.2,842.0 1008.4,848.0 1011.7,849.1 C1015.0,850.2 1018.1,848.6 1020.4,848.8 C1022.7,849.0 1026.5,850.4 1029.2,850.5 C1031.9,850.6 1038.6,849.9 1040.8,849.8 C1043.0,849.7 1045.3,849.8 1046.0,849.8"/>
<path stroke="#ffff00" d="M725.0,673.0 C725.5,673.0 725.8,673.0 729.1,672.8 C732.4,672.6 743.8,671.5 749.6,671.2 C755.4,670.9 765.2,670.7 772.9,670.8 C780.6,670.9 799.8,672.0 807.1,671.8 C814.4,671.6 823.1,669.8 827.7,669.4 C832.3,669.0 838.9,668.5 841.3,668.7 C843.7,668.9 844.6,669.5 845.4,670.8 C846.2,672.1 847.0,675.1 847.5,678.3 C848.0,681.5 848.4,690.3 848.9,694.7 C849.4,699.1 850.4,707.5 850.9,711.2 C851.4,714.9 852.5,719.2 853.0,722.1 C853.5,725.0 854.1,730.5 855.0,733.1 C855.9,735.7 858.7,740.8 859.8,741.3 C860.9,741.8 862.2,738.3 863.2,737.2 C864.2,736.1 866.0,733.7 867.3,733.1 C868.6,732.5 871.1,732.5 872.8,732.8 C874.5,733.1 878.3,734.4 880.3,735.7 C882.3,737.0 885.4,741.0 887.5,742.4 C889.6,743.8 893.8,745.4 895.7,746.5 C897.6,747.6 899.7,749.3 901.9,750.6 C904.1,751.9 909.4,755.0 912.1,756.2 C914.8,757.4 919.7,759.2 922.4,759.8 C925.1,760.4 928.9,760.7 932.6,760.8 C936.3,760.9 945.1,760.6 950.0,760.8 C954.9,761.0 964.0,762.3 969.5,762.5 C975.0,762.7 984.5,762.6 991.3,762.5 C998.1,762.4 1013.8,762.0 1020.4,761.8 C1027.0,761.6 1037.4,761.2 1040.8,761.1 C1044.2,761.0 1045.3,761.0 1046.0,761.0"/>
</g>
<line x1="849.6" y1="594.8" x2="849.6" y2="672.0" stroke="#2e2e2e" stroke-width="1.2"/>
<line x1="953.4" y1="594.8" x2="953.4" y2="672.0" stroke="#2e2e2e" stroke-width="1.2"/>
<line x1="849.6" y1="598.0" x2="871.0" y2="598.0" stroke="#2e2e2e" stroke-width="1.2"/>
<line x1="932.0" y1="598.0" x2="953.4" y2="598.0" stroke="#2e2e2e" stroke-width="1.2"/>
<text x="901.7" y="605.2" font-size="21" text-anchor="middle">7,44 м</text>
<line x1="848.0" y1="670.6" x2="993.5" y2="670.6" stroke="#2e2e2e" stroke-width="1.2"/>
<line x1="991.8" y1="670.6" x2="991.8" y2="687.6" stroke="#2e2e2e" stroke-width="1.2"/>
<line x1="991.8" y1="712.3" x2="991.8" y2="729.5" stroke="#2e2e2e" stroke-width="1.2"/>
<line x1="813.3" y1="729.8" x2="993.5" y2="729.8" stroke="#2e2e2e" stroke-width="1.2"/>
<text x="988.0" y="708.0" font-size="21" text-anchor="middle">3,40 м</text>
<line x1="815.3" y1="731.0" x2="815.3" y2="742.0" stroke="#2e2e2e" stroke-width="1.2"/>
<line x1="815.3" y1="766.6" x2="815.3" y2="776.2" stroke="#2e2e2e" stroke-width="1.2"/>
<line x1="813.3" y1="776.5" x2="877.0" y2="776.5" stroke="#2e2e2e" stroke-width="1.2"/>
<text x="812.3" y="757.0" font-size="21" text-anchor="middle">2,65 м</text>
<line x1="851.5" y1="724.9" x2="851.5" y2="826.6" stroke="#2e2e2e" stroke-width="1.2"/>
<line x1="901.5" y1="729.0" x2="901.5" y2="826.6" stroke="#2e2e2e" stroke-width="1.2"/>
<line x1="851.5" y1="823.4" x2="901.5" y2="823.4" stroke="#2e2e2e" stroke-width="1.2"/>
<text x="812.4" y="826.6" font-size="21" text-anchor="middle">3,56 м</text>
<rect x="728" y="580.5" width="314.5" height="322.9" fill="none" stroke="#ff0000" stroke-width="2.6"/>
<line x1="255.6" y1="1148.2" x2="352.7" y2="1148.2" stroke="#ff0000" stroke-width="4.5"/>
<text x="378.5" y="1154.4" font-size="21" text-anchor="middle">1</text>
<line x1="465.6" y1="1148.2" x2="562.0" y2="1148.2" stroke="#33e833" stroke-width="4.5"/>
<text x="585.0" y="1154.4" font-size="21" text-anchor="middle">2</text>
<line x1="667.3" y1="1148.2" x2="764.2" y2="1148.2" stroke="#0000ff" stroke-width="4.5"/>
<text x="786.8" y="1154.4" font-size="21" text-anchor="middle">3</text>
<line x1="877.0" y1="1148.2" x2="973.5" y2="1148.2" stroke="#ffff00" stroke-width="4.5"/>
<text x="996.5" y="1154.4" font-size="21" text-anchor="middle">4</text>
</svg>
</body></html>
